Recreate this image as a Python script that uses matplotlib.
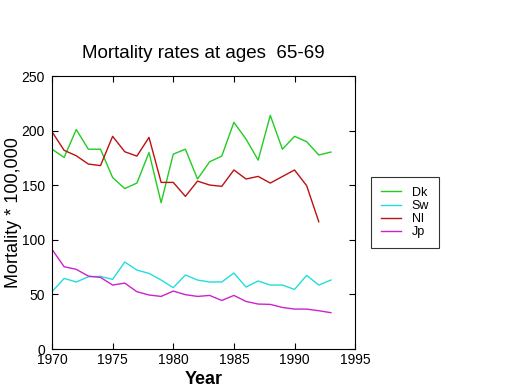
import matplotlib
matplotlib.use("Agg")
import matplotlib.pyplot as plt

years = list(range(1970, 1994))
dk = [183, 175.5, 201, 183, 183, 157, 147, 152, 180, 134, 178.5, 183, 155.7, 171.5,
      176.7, 207.6, 192.3, 173, 214, 183, 194.8, 189.9, 177.7, 180.4]
sw = [52.5, 64.7, 61.4, 66.2, 66.5, 63.8, 79.7, 72.3, 69.3, 63.2, 56.2, 67.8, 63.2, 61.4,
      61.4, 69.6, 56.8, 62.3, 58.6, 58.6, 54.6, 67.5, 58.6, 63.2]
nl_years = list(range(1970, 1993))
nl = [199, 182, 177, 169.4, 168, 194.8, 180.7, 176.7, 193.8, 152.6, 152.6, 139.8, 153.8,
      150.2, 149, 164, 155.7, 158.1, 152, 158, 164, 149.6, 116.6]
jp = [91.3, 75.4, 73, 66.8, 65.6, 58.6, 60.4, 52.5, 49.5, 48.2, 53.1, 49.8, 48.2, 49.1,
      44.5, 49.1, 43.6, 41.2, 40.9, 38.1, 36.6, 36.6, 35.1, 33.3]

plt.rcParams['font.family'] = ['Liberation Sans', 'DejaVu Sans']

fig = plt.figure(figsize=(5.2, 3.9), dpi=100)
ax = fig.add_axes([0.1, 0.105, 0.583, 0.7])

ax.plot(years, dk, color='#22cc22', lw=1, label='Dk')
ax.plot(years, sw, color='#22dddd', lw=1, label='Sw')
ax.plot(nl_years, nl, color='#bb1111', lw=1, label='Nl')
ax.plot(years, jp, color='#cc22cc', lw=1, label='Jp')

ax.set_xlim(1970, 1995)
ax.set_ylim(0, 250)
ax.set_xticks([1970, 1975, 1980, 1985, 1990, 1995])
ax.set_yticks([0, 50, 100, 150, 200, 250])
ax.tick_params(direction='in', top=True, right=True, labelsize=10, length=4, width=0.8)
ax.tick_params(axis='x', pad=3)
ax.tick_params(axis='y', pad=5)
for s in ax.spines.values():
    s.set_linewidth(0.8)

ax.set_title('Mortality rates at ages  65-69', fontsize=13.5, pad=13)
ax.set_xlabel('Year', fontsize=13, fontweight='bold', labelpad=3)
ax.set_ylabel('Mortality * 100,000', fontsize=13, labelpad=0)

leg = ax.legend(loc='center left', bbox_to_anchor=(1.03, 0.5), fontsize=9,
                frameon=True, fancybox=False, edgecolor='black', handlelength=1.6,
                borderpad=0.8, labelspacing=0.1, handletextpad=0.9)
leg.get_frame().set_linewidth(0.8)

fig.savefig('out.png', dpi=100, facecolor='white')
